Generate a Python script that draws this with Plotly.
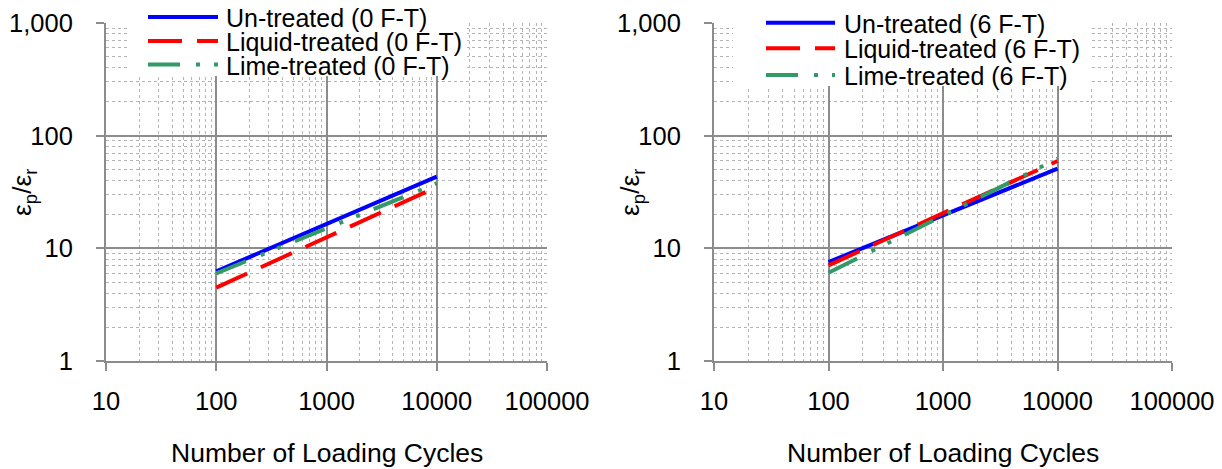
import plotly.graph_objects as go

# ---------------- data ----------------
cycles = [100, 10000]
x_ticks = [10, 100, 1000, 10000, 100000]
x_tick_text = ["10", "100", "1000", "10000", "100000"]
y_ticks = [1, 10, 100, 1000]
y_tick_text = ["1", "10", "100", "1,000"]

untreated_0 = [6.25, 43.3]
liquid_0 = [4.48, 35.0]
lime_0 = [6.0, 37.7]

untreated_6 = [7.55, 51.0]
liquid_6 = [7.06, 59.6]
lime_6 = [6.08, 62.5]

names_0 = ["Un-treated (0 F-T)", "Liquid-treated (0 F-T)", "Lime-treated (0 F-T)"]
names_6 = ["Un-treated (6 F-T)", "Liquid-treated (6 F-T)", "Lime-treated (6 F-T)"]

# ---------------- style ----------------
W, H = 1222, 469
FONT = "Liberation Sans, Arial, sans-serif"
BLUE, RED, GREEN = "#0000FF", "#FF0000", "#339966"
COLORS = [BLUE, RED, GREEN]
DASHES = ["solid", "34px,15px", "32px,16px,4px,14px,4px,15px"]
LW = 4
MAJ = "#8C8C8C"
MIN = "#B4B4B4"
TICK_SIZE = 25.5
LEG_SIZE = 25
TITLE_SIZE = 26.5

def px(x):
    return x / W

def py(y):
    return 1 - y / H

# plot areas in pixels
L = dict(x0=106, x1=547, y0=23, y1=361)
R = dict(x0=714, x1=1172, y0=23, y1=361)

fig = go.Figure()

series = [
    ("x", "y", [untreated_0, liquid_0, lime_0], names_0),
    ("x2", "y2", [untreated_6, liquid_6, lime_6], names_6),
]
for xa, ya, vals, names in series:
    for v, nm, c, d in zip(vals, names, COLORS, DASHES):
        fig.add_trace(go.Scatter(
            x=cycles, y=v, mode="lines", name=nm, xaxis=xa, yaxis=ya,
            line=dict(color=c, width=LW, dash=d), showlegend=False,
        ))

minor_x = [m * 10 ** e for e in range(1, 5) for m in range(2, 10)]
minor_y = [m * 10 ** e for e in range(0, 3) for m in range(2, 10)]

def xaxis(dom, anchor):
    return dict(
        type="log", range=[1, 5], domain=dom, anchor=anchor, automargin=False,
        tickmode="array", tickvals=x_ticks, ticktext=x_tick_text,
        showgrid=True, gridcolor=MAJ, gridwidth=2,
        showline=True, linecolor=MAJ, linewidth=2,
        ticks="outside", ticklen=8, tickwidth=2, tickcolor=MAJ,
        ticklabelstandoff=8,
        tickfont=dict(family=FONT, size=TICK_SIZE, color="#000"),
        minor=dict(tickmode="array", tickvals=minor_x, showgrid=True,
                   gridcolor=MIN, gridwidth=1, griddash="dot", ticks=""),
        zeroline=False, fixedrange=True,
    )

def yaxis(dom, anchor):
    return dict(
        type="log", range=[0, 3], domain=dom, anchor=anchor, automargin=False,
        tickmode="array", tickvals=y_ticks, ticktext=y_tick_text,
        showgrid=True, gridcolor=MAJ, gridwidth=2,
        showline=True, linecolor=MAJ, linewidth=2,
        ticks="outside", ticklen=8, tickwidth=2, tickcolor=MAJ,
        ticklabelstandoff=18,
        tickfont=dict(family=FONT, size=TICK_SIZE, color="#000"),
        minor=dict(tickmode="array", tickvals=minor_y, showgrid=True,
                   gridcolor=MIN, gridwidth=1, griddash="dot", ticks=""),
        zeroline=False, fixedrange=True,
    )

shapes = []
annotations = []

for P, xa, ya, names, leg in [
    (L, "x", "y", names_0, dict(box=(128, 0, 467, 76), lx=(148, 218), tx=224, rows=[17, 41, 64.5])),
    (R, "x2", "y2", names_6, dict(box=(733, 0, 1092, 86), lx=(766, 835), tx=842, rows=[22.7, 48.3, 75])),
]:
    bx0, by0, bx1, by1 = leg["box"]
    shapes.append(dict(type="rect", xref="paper", yref="paper", layer="above",
                       x0=px(bx0), x1=px(bx1), y0=py(by1), y1=py(by0),
                       fillcolor="white", line=dict(width=0)))
    for nm, c, d, ry in zip(names, COLORS, DASHES, leg["rows"]):
        shapes.append(dict(type="line", xref="paper", yref="paper", layer="above",
                           x0=px(leg["lx"][0]), x1=px(leg["lx"][1]), y0=py(ry), y1=py(ry),
                           line=dict(color=c, width=LW, dash=d)))
        annotations.append(dict(text=nm, xref="paper", yref="paper", showarrow=False,
                                x=px(leg["tx"]), y=py(ry + 1), xanchor="left", yanchor="middle",
                                font=dict(family=FONT, size=LEG_SIZE, color="#000")))
    cx = (P["x0"] + P["x1"]) / 2
    annotations.append(dict(text="Number of Loading Cycles", xref="paper", yref="paper",
                            showarrow=False, x=px(cx), y=py(453), xanchor="center",
                            yanchor="middle", font=dict(family=FONT, size=TITLE_SIZE, color="#000")))
    annotations.append(dict(text="ε<sub>p</sub>/ε<sub>r</sub>", xref="paper", yref="paper",
                            showarrow=False, x=px(P["x0"] - 82), y=py((P["y0"] + P["y1"]) / 2),
                            xanchor="center", yanchor="middle", textangle=-90,
                            font=dict(family=FONT, size=TITLE_SIZE, color="#000")))

fig.update_layout(
    width=W, height=H,
    margin=dict(l=0, r=0, t=0, b=0, autoexpand=False),
    paper_bgcolor="white", plot_bgcolor="white",
    xaxis=xaxis([px(L["x0"]), px(L["x1"])], "y"),
    yaxis=yaxis([py(L["y1"]), py(L["y0"])], "x"),
    xaxis2=xaxis([px(R["x0"]), px(R["x1"])], "y2"),
    yaxis2=yaxis([py(R["y1"]), py(R["y0"])], "x2"),
    shapes=shapes,
    annotations=annotations,
    showlegend=False,
)

fig.write_html("out.html")
